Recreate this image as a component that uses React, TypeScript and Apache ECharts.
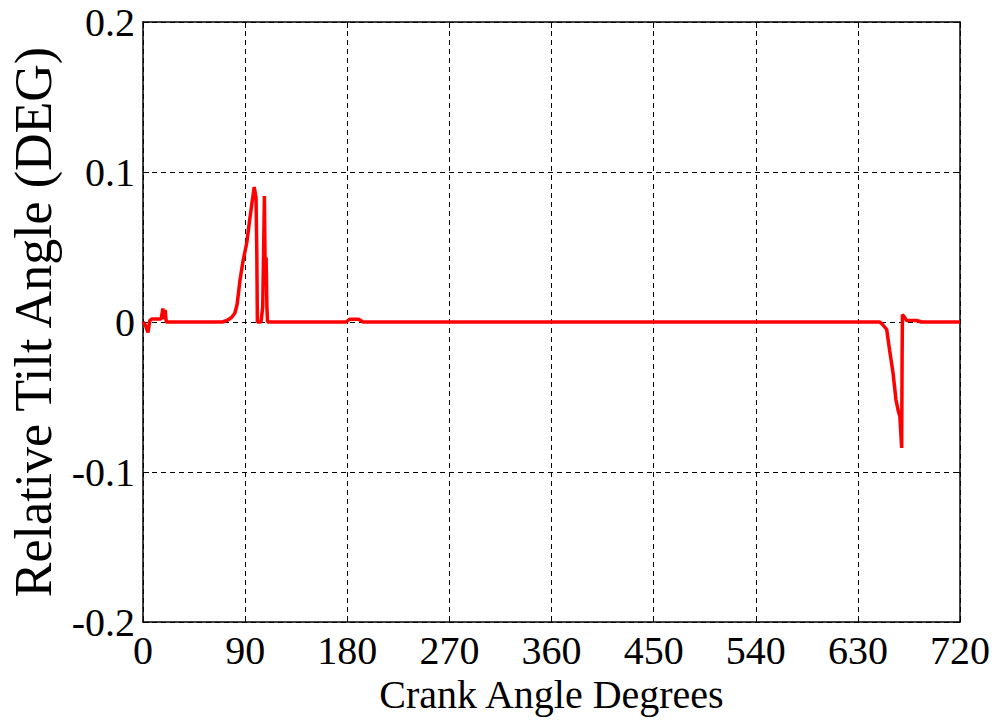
import React, { useEffect, useRef } from "react";
import * as echarts from "echarts";

const crankAngle = [0, 2, 4.4, 6, 8, 12, 16, 17.5, 18.5, 19.5, 20.5, 22, 70, 74, 78, 81, 83, 85.5, 88, 91.5, 94, 96, 98, 99.6, 100.3, 100.8, 104, 105.5, 107, 107.7, 108.5, 109.2, 109.8, 110.5, 111, 179, 182, 190, 194, 649, 651, 655.4, 658, 661, 663.6, 665.5, 667, 668.6, 669, 669.3, 673, 681.8, 686, 720];
const tiltAngle = [0, -0.002, -0.007, 0.001, 0.002, 0.002, 0.002, 0.009, 0.002, 0.008, 0, 0, 0, 0.001, 0.003, 0.006, 0.012, 0.028, 0.04, 0.053, 0.068, 0.079, 0.09, 0.083, 0.045, 0, 0, 0.01, 0.084, 0.03, 0.043, 0.01, 0, 0, 0, 0, 0.0018, 0.0018, 0, 0, -0.001, -0.005, -0.019, -0.034, -0.052, -0.059, -0.063, -0.084, -0.02, 0.005, 0.001, 0.001, 0, 0];

const xTicks = [0, 90, 180, 270, 360, 450, 540, 630, 720];
const yTicks = [-0.2, -0.1, 0, 0.1, 0.2];

export default function App() {
  const ref = useRef<HTMLDivElement>(null);
  useEffect(() => {
    if (!ref.current) return;
    const chart = echarts.init(ref.current, null, { renderer: "svg" });
    const font = "'Liberation Serif', 'Times New Roman', serif";
    const data = crankAngle.map((x, i) => [x, tiltAngle[i]]);
    const gridLine = { show: true, lineStyle: { color: "#000", width: 1, type: [5, 4] } };
    chart.setOption({
      animation: false,
      backgroundColor: "#fff",
      grid: { left: 143, top: 22, width: 817, height: 600, containLabel: false, outerBoundsMode: "none" },
      xAxis: [
        {
          type: "value",
          min: xTicks[0],
          max: xTicks[xTicks.length - 1],
          interval: 90,
          position: "bottom",
          name: "Crank Angle Degrees",
          nameLocation: "middle",
          nameGap: 46,
          nameTextStyle: { fontFamily: font, fontSize: 40, color: "#000" },
          axisLine: { show: true, onZero: false, lineStyle: { color: "#000", width: 1.5 } },
          axisTick: { show: true, inside: true, length: 6, lineStyle: { color: "#000" } },
          axisLabel: { fontFamily: font, fontSize: 40, color: "#000", margin: 8, showMinLabel: true, showMaxLabel: true },
          splitLine: gridLine,
        },
        {
          type: "value",
          min: xTicks[0],
          max: xTicks[xTicks.length - 1],
          interval: 90,
          position: "top",
          axisLine: { show: true, onZero: false, lineStyle: { color: "#000", width: 1.5 } },
          axisTick: { show: true, inside: true, length: 6, lineStyle: { color: "#000" } },
          axisLabel: { show: false },
          splitLine: { show: false },
        },
      ],
      yAxis: [
        {
          type: "value",
          min: yTicks[0],
          max: yTicks[yTicks.length - 1],
          interval: 0.1,
          position: "left",
          name: "Relative Tilt Angle (DEG)",
          nameLocation: "middle",
          nameRotate: 90,
          nameGap: 84,
          nameTextStyle: { fontFamily: font, fontSize: 52, color: "#000" },
          axisLine: { show: true, onZero: false, lineStyle: { color: "#000", width: 1.5 } },
          axisTick: { show: true, inside: true, length: 6, lineStyle: { color: "#000" } },
          axisLabel: {
            fontFamily: font,
            fontSize: 40,
            color: "#000",
            margin: 8,
            formatter: (v: number) => (Math.abs(v) < 1e-9 ? "0" : String(Math.round(v * 10) / 10)),
          },
          splitLine: gridLine,
        },
        {
          type: "value",
          min: yTicks[0],
          max: yTicks[yTicks.length - 1],
          interval: 0.1,
          position: "right",
          axisLine: { show: true, onZero: false, lineStyle: { color: "#000", width: 1.5 } },
          axisTick: { show: true, inside: true, length: 6, lineStyle: { color: "#000" } },
          axisLabel: { show: false },
          splitLine: { show: false },
        },
      ],
      series: [
        {
          type: "line",
          data,
          xAxisIndex: 0,
          yAxisIndex: 0,
          showSymbol: false,
          symbol: "none",
          lineStyle: { color: "#ff0000", width: 3.5 },
          z: 5,
        },
      ],
    });
    return () => chart.dispose();
  }, []);
  return <div ref={ref} style={{ position: "absolute", left: 0, top: 0, width: 999, height: 722 }} />;
}
